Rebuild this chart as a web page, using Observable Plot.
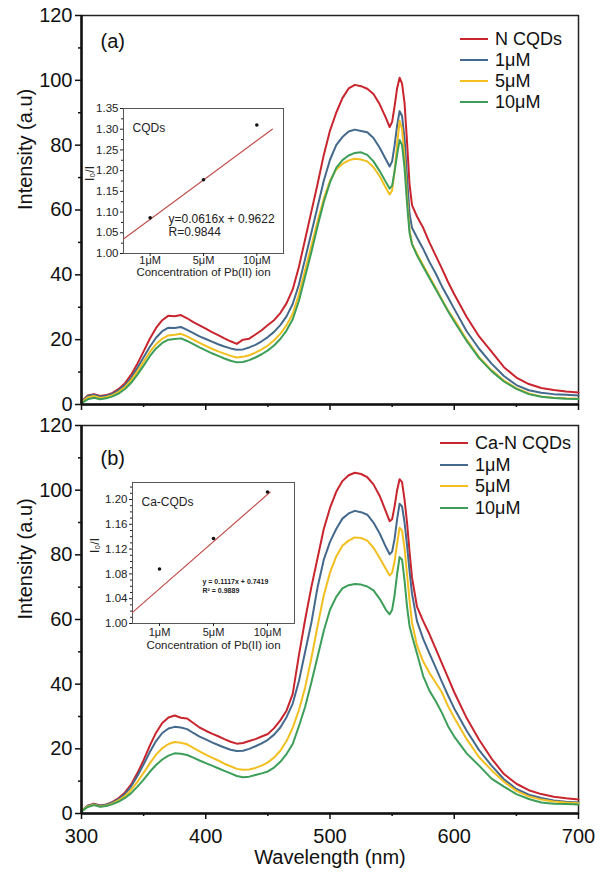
<!DOCTYPE html>
<html><head><meta charset="utf-8">
<script src="https://cdn.jsdelivr.net/npm/d3@7"></script>
<script src="https://cdn.jsdelivr.net/npm/@observablehq/plot@0.6"></script>
<style>
body{margin:0;background:#fff;font-family:"Liberation Sans",Arial,Helvetica,sans-serif;}
#wrap{position:relative;width:605px;height:874px;overflow:hidden;background:#fff;}
.leg{position:absolute;font-size:18px;color:#111;line-height:1;}
.leg .row{display:flex;align-items:center;}
.leg .sw{display:inline-block;width:28px;height:0;border-top:2.5px solid;margin-right:7px;}
</style></head><body><div id="wrap"></div>
<script>
// ---------- data ----------
const wavelength = [
300,305,310,315,320,325,330,335,340,345,
350,355,360,365,370,375,380,385,390,395,
400,405,410,415,420,425,430,435,440,445,
450,455,460,465,470,475,480,485,490,495,
500,505,510,515,520,525,530,535,540,545,
548,550,552,554,556,558,560,562,564,566,
570,575,580,585,590,595,600,
610,620,630,640,650,660,670,680,690,700];

const namesA = ["N CQDs","1μM","5μM","10μM"];
const namesB = ["Ca-N CQDs","1μM","5μM","10μM"];
const seriesColors = ["#c8252e","#44698c","#f2bf1f","#3c9e58"];

const aNCQDs = [
0.8,2.8,3.2,2.6,2.9,3.6,4.8,6.6,9.2,12.6,
16.4,20.3,23.6,26.0,27.4,27.2,27.6,26.6,25.4,24.4,
23.4,22.3,21.4,20.4,19.5,18.7,20.0,20.3,21.6,22.9,
24.5,26.0,28.2,31.2,35.5,42.5,51,59.5,68,77,
84.5,90,94.5,97.5,98.6,98.2,97.4,95.8,92.6,88.4,
85.6,87.2,92,97.5,100.8,99,93,81,68,61.5,
58,54.5,50,46,42,37.8,34,
27,21,16.3,11.5,8.3,6.3,5.1,4.5,4.0,3.7];
const a1uM = [
0.8,2.6,3.0,2.4,2.7,3.3,4.4,6.0,8.3,11.3,
14.6,17.8,20.6,22.6,23.7,23.6,23.9,23.0,22.0,21.0,
20.2,19.4,18.6,17.9,17.3,16.9,17.0,17.6,18.4,19.5,
20.8,22.4,24.5,27.2,31,37,45,53,61,69,
75.5,80,82.5,84.2,84.8,84.4,84.0,82.2,79.2,75.6,
73.4,75,80,86,90.5,89,82,70,59,54.5,
51.5,48,44,40.5,36.5,33,29.5,
22.6,17.2,12.6,8.8,6.0,4.4,3.6,3.2,3.0,2.8];
const a5uM = [
0.6,2.2,2.6,2.0,2.3,2.9,3.9,5.4,7.5,10.2,
13.2,16.2,18.6,20.3,21.3,21.5,21.8,21.0,20.0,19.0,
18.1,17.2,16.4,15.7,15.0,14.5,14.7,15.2,16.0,17.0,
18.2,19.8,21.8,24.4,28,34,41.5,49,56.5,63.5,
69,72.5,74.2,75.3,75.8,75.6,75.0,73.2,70.4,66.8,
64.8,66,72,80,87.5,85,76,64,54,49.5,
46.5,43,39.5,36,32.5,29,26.2,
20.0,14.6,10.6,7.4,5.0,3.4,2.5,2.1,1.9,1.8];
const a10uM = [
0.4,1.6,2.1,1.6,1.9,2.5,3.4,4.8,6.7,9.2,
12.0,14.9,17.3,19.0,20.0,20.2,20.4,19.6,18.6,17.6,
16.7,15.8,15.0,14.2,13.5,13.0,13.1,13.7,14.5,15.5,
16.7,18.2,20.2,22.8,26.3,32,39.5,47,55,62.5,
68.5,73,75.4,76.8,77.6,77.8,77.0,75.0,72.0,68.6,
66.6,67.5,72,77,81.6,80,73,62,53,49.5,
46,42.5,39,35.6,32.2,28.8,25.6,
19.6,14.3,10.3,7.1,4.8,3.2,2.4,2.0,1.8,1.7];

const bCaNCQDs = [
0.8,2.4,3.0,2.5,2.8,3.6,4.8,6.5,9.0,12.5,
16.5,21.0,25.0,28.0,29.7,30.3,29.6,29.4,28.0,26.6,
25.6,24.7,23.9,23.0,22.2,21.6,21.8,22.4,23.0,23.8,
24.6,26.4,28.8,31.8,37,49,60,70,79,88,
94.5,99.5,102.8,104.6,105.4,105.0,104.0,101.8,98.2,93.4,
90.4,91,95,100,103.4,102.5,97,90,81,73,
64,59.5,55.5,51,46.5,42,37.5,
29.5,22.8,17.0,12.2,9.2,7.2,6.0,5.2,4.7,4.3];
const b1uM = [
0.8,2.4,2.9,2.4,2.7,3.4,4.5,6.1,8.4,11.6,
15.2,19.0,22.4,24.9,26.3,26.8,26.6,26.1,24.9,23.8,
22.9,22.0,21.2,20.4,19.7,19.3,19.4,20.0,20.8,21.7,
22.8,24.4,26.6,29.8,34,41,50,59,70,78.5,
84,88,91.2,92.8,93.6,93.2,92.4,90.0,86.6,82.4,
80.2,81,85,91,95.8,95,90,83,75,68,
59.5,54,49.5,45.2,40.8,36.5,32.5,
25.6,19.6,14.8,10.6,7.6,5.8,4.8,4.0,3.6,3.4];
const b5uM = [
0.7,2.2,2.7,2.2,2.5,3.1,4.1,5.4,7.3,9.8,
12.6,15.5,18.2,20.2,21.5,22.1,21.9,21.4,20.3,19.2,
18.2,17.3,16.4,15.4,14.6,13.8,13.5,13.6,14.1,14.8,
15.8,17.3,19.4,22.4,26.5,32,39,48,58,67.5,
74.5,79.5,82.8,84.4,85.4,85.2,84.4,82.2,79.0,75.6,
73.6,74.5,78,83.5,88.4,87.5,82,74,66,59,
52,47,43.5,40.5,37.5,33.2,29.6,
23.0,17.4,13.4,9.8,7.0,5.3,4.3,3.7,3.4,3.2];
const b10uM = [
0.6,2.0,2.6,2.1,2.3,2.9,3.7,4.8,6.3,8.3,
10.5,12.9,15.0,16.7,17.9,18.6,18.5,18.1,17.3,16.4,
15.6,14.8,14.0,13.2,12.4,11.6,11.2,11.4,11.9,12.4,
13.0,14.2,16.0,18.4,21.5,27,33,40.5,48.5,56.5,
63,67,69.6,70.6,71.0,70.8,70.2,69.0,66.4,63.0,
61.6,63,67.5,74,79.3,78.5,72,64,58,55,
49.5,42.5,38,34.8,31.2,27,23.8,
18.6,14.8,10.8,8.3,6.0,4.5,3.4,3.0,2.9,2.8];

// main axes ticks
const xMajor = [300,400,500,600,700];
const xMinor = [350,450,550,650];
const yMajor = [0,20,40,60,80,100,120];
const yMinor = [10,30,50,70,90,110];

// insets
const concLabels = ["1μM","5μM","10μM"];
const concIndex = [1,2,3];
const insetA_ratio = [1.086,1.178,1.31];
const insetA_fitX = [0.5,3.29];
const insetA_fitY = [1.035,1.30];
const insetA_yTicks = [1.00,1.05,1.10,1.15,1.20,1.25,1.30,1.35];
const insetA_eq = ["y=0.0616x + 0.9622","R=0.9844"];
const insetB_ratio = [1.088,1.137,1.212];
const insetB_fitX = [0.5,3.05];
const insetB_fitY = [1.018,1.212];
const insetB_yTicks = [1.00,1.04,1.08,1.12,1.16,1.20];
const insetB_eq = ["y = 0.1117x + 0.7419","R² = 0.9889"];

// ---------- build ----------
const FONT = "Liberation Sans, Arial, Helvetica, sans-serif";
function rows(names, arrays){
  const out=[];
  arrays.forEach((arr,k)=>arr.forEach((v,i)=>out.push({wl:wavelength[i], I:v, s:names[k]})));
  return out;
}
function mainChart({data, names, height, marginTop, marginBottom, tag, tagDy, showX}){
  return Plot.plot({
    width:605, height, marginTop, marginBottom, marginLeft:81, marginRight:27,
    x:{domain:[300,700]}, y:{domain:[0,120]},
    color:{domain:names, range:seriesColors},
    style:{fontFamily:FONT, fontSize:"20px", color:"#111", background:"transparent", overflow:"visible"},
    marks:[
      Plot.frame({stroke:"#222", strokeWidth:1.5}),
      Plot.axisY({ticks:yMajor, tickSize:6, tickPadding:3, label:null, stroke:"#111", strokeWidth:1.5}),
      Plot.axisY({ticks:yMinor, tickSize:3, tickFormat:()=>"", label:null, stroke:"#111", strokeWidth:1.5}),
      Plot.axisX({ticks:xMajor, tickSize:6, tickPadding:9, label:null, stroke:"#111", strokeWidth:1.5, tickFormat: showX ? (d=>String(d)) : (()=>"")}),
      Plot.axisX({ticks:xMinor, tickSize:3, tickFormat:()=>"", label:null, stroke:"#111", strokeWidth:1.5}),
      Plot.lineY(data, {x:"wl", y:"I", z:"s", stroke:"s", strokeWidth:2}),
      Plot.ruleX([300], {stroke:"#111", strokeWidth:2.5}),
      Plot.ruleY([0], {stroke:"#111", strokeWidth:2.5}),
      Plot.text([tag], {frameAnchor:"top-left", dx:19, dy:tagDy, textAnchor:"start", fontSize:20}),
      Plot.text(["Intensity (a.u)"], {frameAnchor:"left", dx:-56, rotate:-90, fontSize:20}),
      ...(showX ? [Plot.text(["Wavelength (nm)"], {frameAnchor:"bottom", dy:50, fontSize:20})] : [])
    ]
  });
}
function inset({width, height, yDomain, yTicks, yMinorTicks, ratio, fitX, fitY, name, eq, eqSize, eqBold, eqDx, eqDy, titleDy, tickPad, yLabelDx}){
  const pts = concIndex.map((c,i)=>({x:c, y:ratio[i]}));
  const fit = fitX.map((x,i)=>({x, y:fitY[i]}));
  return Plot.plot({
    width, height, marginLeft:42, marginRight:13, marginTop:10, marginBottom:30,
    x:{domain:[0.5,3.5]}, y:{domain:yDomain},
    style:{fontFamily:FONT, fontSize:"11.5px", color:"#222", background:"transparent", overflow:"visible"},
    marks:[
      Plot.frame({fill:"white", stroke:"#555", strokeWidth:1}),
      Plot.axisY({ticks:yTicks, tickSize:3, tickPadding:2, label:null, tickFormat:d3.format(".2f")}),
      Plot.axisY({ticks:yMinorTicks, tickSize:2, tickFormat:()=>"", label:null}),
      Plot.axisX({ticks:concIndex, tickSize:3, tickPadding:tickPad, label:null, fontSize:11, tickFormat:d=>concLabels[d-1]}),
      Plot.line(fit, {x:"x", y:"y", stroke:"#c0504d", strokeWidth:1.2}),
      Plot.dot(pts, {x:"x", y:"y", r:1.8, fill:"#111"}),
      Plot.text([name], {frameAnchor:"top-left", dx:9, dy:15, textAnchor:"start", fontSize:12}),
      Plot.text([eq[0]], {frameAnchor:"bottom-left", dx:eqDx, dy:eqDy[0], textAnchor:"start", fontSize:eqSize, fontWeight:eqBold?"bold":"normal"}),
      Plot.text([eq[1]], {frameAnchor:"bottom-left", dx:eqDx, dy:eqDy[1], textAnchor:"start", fontSize:eqSize, fontWeight:eqBold?"bold":"normal"}),
      Plot.text(["Concentration of Pb(II) ion"], {frameAnchor:"bottom", dy:titleDy, fontSize:11.5}),
      Plot.text(["I₀/I"], {frameAnchor:"left", dx:yLabelDx, rotate:-90, fontSize:12})
    ]
  });
}
function legend(names, left, top, rowH){
  const d=document.createElement("div");
  d.className="leg"; d.style.left=left+"px"; d.style.top=top+"px";
  names.forEach((n,i)=>{
    const r=document.createElement("div"); r.className="row"; r.style.height=rowH+"px";
    const s=document.createElement("span"); s.className="sw"; s.style.borderTopColor=seriesColors[i];
    const t=document.createElement("span"); t.textContent=n;
    r.appendChild(s); r.appendChild(t); d.appendChild(r);
  });
  return d;
}
const wrap=document.getElementById("wrap");
function place(node,left,top){node.style.position="absolute";node.style.left=left+"px";node.style.top=top+"px";wrap.appendChild(node);}

const chartA = mainChart({data:rows(namesA,[aNCQDs,a1uM,a5uM,a10uM]), names:namesA, height:420, marginTop:15, marginBottom:16, tag:"(a)", tagDy:18, showX:false});
place(chartA,0,0);
const chartB = mainChart({data:rows(namesB,[bCaNCQDs,b1uM,b5uM,b10uM]), names:namesB, height:454, marginTop:5, marginBottom:61, tag:"(b)", tagDy:25, showX:true});
place(chartB,0,420);

const insA = inset({width:215, height:185, yDomain:[1.0,1.35], yTicks:insetA_yTicks, yMinorTicks:[1.025,1.075,1.125,1.175,1.225,1.275,1.325],
  ratio:insetA_ratio, fitX:insetA_fitX, fitY:insetA_fitY, name:"CQDs", eq:insetA_eq, eqSize:12, eqBold:false, eqDx:45, eqDy:[-31,-18], titleDy:22, tickPad:0, yLabelDx:-33});
place(insA,81,98);
const insB = inset({width:217, height:181, yDomain:[1.0,1.2274], yTicks:insetB_yTicks, yMinorTicks:d3.range(1.01,1.225,0.01).filter((v,i)=>(i+1)%4!==0),
  ratio:insetB_ratio, fitX:insetB_fitX, fitY:insetB_fitY, name:"Ca-CQDs", eq:insetB_eq, eqSize:7, eqBold:true, eqDx:70, eqDy:[-40,-31], titleDy:25, tickPad:2, yLabelDx:-37});
place(insB,90,472);

wrap.appendChild(legend(namesA,460,28.5,21));
wrap.appendChild(legend(namesB,440,432,21.7));
</script>
</body></html>
